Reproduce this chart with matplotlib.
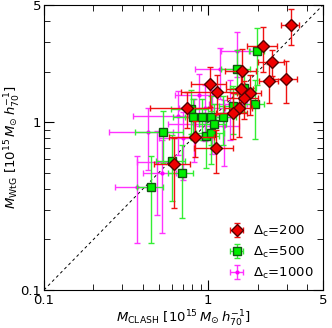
import matplotlib
matplotlib.use('Agg')
import matplotlib.pyplot as plt
import numpy as np

# Delta_c = 200 (red diamonds)
x200 = [3.19, 2.16, 2.45, 2.35, 2.98, 1.61, 1.03, 1.13, 1.80, 1.65, 1.58, 1.54, 1.42, 0.74, 0.83, 1.12, 0.62]
y200 = [3.80, 2.85, 2.29, 1.76, 1.81, 2.02, 1.69, 1.52, 1.50, 1.40, 1.58, 1.22, 1.14, 1.22, 0.82, 0.70, 0.56]
xe200 = [0.40, 0.45, 0.43, 0.30, 0.50, 0.35, 0.25, 0.45, 0.30, 0.35, 0.30, 0.30, 0.30, 0.30, 0.25, 0.30, 0.15]
ye200 = [0.90, 0.85, 0.40, 0.45, 0.50, 0.70, 0.45, 0.40, 0.40, 0.35, 0.40, 0.40, 0.35, 0.30, 0.20, 0.20, 0.25]

# Delta_c = 500 (green squares)
x500 = [1.98, 1.50, 1.65, 1.42, 1.93, 0.79, 0.81, 1.04, 1.23, 1.08, 0.97, 1.04, 0.53, 0.60, 0.69, 0.45, 0.92]
y500 = [2.66, 2.08, 1.60, 1.25, 1.29, 1.20, 1.08, 1.08, 1.08, 0.98, 0.83, 0.86, 0.87, 0.59, 0.50, 0.41, 1.08]
xe500 = [0.20, 0.30, 0.30, 0.25, 0.25, 0.20, 0.20, 0.25, 0.25, 0.20, 0.20, 0.20, 0.17, 0.12, 0.12, 0.08, 0.20]
ye500 = [1.00, 0.60, 0.45, 0.40, 0.50, 0.35, 0.30, 0.35, 0.35, 0.30, 0.30, 0.30, 0.30, 0.25, 0.23, 0.22, 0.30]

# Delta_c = 1000 (magenta points)
x1000 = [1.50, 1.18, 0.65, 0.43, 0.49, 0.52, 0.37, 0.82, 0.96, 1.36, 1.05, 0.88, 1.25, 0.70]
y1000 = [2.66, 2.08, 1.09, 0.87, 0.58, 0.50, 0.41, 0.98, 1.22, 1.28, 1.10, 1.45, 0.95, 0.80]
xe1000 = [0.30, 0.35, 0.30, 0.18, 0.12, 0.12, 0.10, 0.25, 0.30, 0.35, 0.30, 0.25, 0.30, 0.20]
ye1000 = [0.80, 0.70, 0.45, 0.35, 0.30, 0.28, 0.22, 0.40, 0.45, 0.50, 0.45, 0.50, 0.40, 0.35]

plt.rcParams['mathtext.fontset'] = 'dejavusans'
fig = plt.figure(figsize=(3.32, 3.28), dpi=100)
ax = fig.add_axes([0.1325, 0.116, 0.8405, 0.869])

ax.plot([0.1, 5], [0.1, 5], '--', color='black', lw=0.7, dashes=(3, 3), zorder=1)

h1000 = ax.errorbar(x1000, y1000, xerr=xe1000, yerr=ye1000, fmt='o', color='#ff00ff', ms=2,
                    ecolor='#ff33ff', elinewidth=1, capsize=2.5, zorder=2)
h500 = ax.errorbar(x500, y500, xerr=xe500, yerr=ye500, fmt='s', mfc='#00ee00', mec='#115511', ms=5.5,
                   ecolor='#33ee33', elinewidth=1, capsize=2.5, zorder=3)
h200 = ax.errorbar(x200, y200, xerr=xe200, yerr=ye200, fmt='D', mfc='#ee0000', mec='#550000', ms=6,
                   ecolor='#ee1111', elinewidth=1, capsize=2.5, zorder=4)

ax.set_xscale('log')
ax.set_yscale('log')
ax.set_xlim(0.1, 5)
ax.set_ylim(0.1, 5)
ax.set_xticks([0.1, 1, 5])
ax.set_xticklabels(['0.1', '1', '5'])
ax.set_yticks([0.1, 1, 5])
ax.set_yticklabels(['0.1', '1', '5'])
ax.xaxis.set_minor_formatter(matplotlib.ticker.NullFormatter())
ax.yaxis.set_minor_formatter(matplotlib.ticker.NullFormatter())
ax.tick_params(which='both', direction='in', top=True, right=True, labelsize=9.5)
ax.tick_params(axis='x', pad=3)
ax.tick_params(axis='y', pad=2)
ax.tick_params(which='major', length=7)
ax.tick_params(which='minor', length=4)

ax.set_xlabel(r'$M_{\rm CLASH}\ [10^{15}\,M_{\odot}\,h_{70}^{-1}]$', fontsize=9.5)
ax.set_ylabel(r'$M_{\rm WtG}\ [10^{15}\,M_{\odot}\,h_{70}^{-1}]$', fontsize=9.5)
ax.xaxis.set_label_coords(0.5, -0.066, transform=ax.transAxes)
ax.xaxis.label.set_va('top')
ax.yaxis.set_label_coords(-0.075, 0.5, transform=ax.transAxes)

ax.legend([h200, h500, h1000],
          [r'$\Delta_{\rm c}$=200', r'$\Delta_{\rm c}$=500', r'$\Delta_{\rm c}$=1000'],
          loc='lower right', frameon=False, fontsize=9.5, handletextpad=0.5,
          borderaxespad=0.3, labelspacing=0.45, handlelength=1.5)

fig.savefig('out.png', dpi=100)
